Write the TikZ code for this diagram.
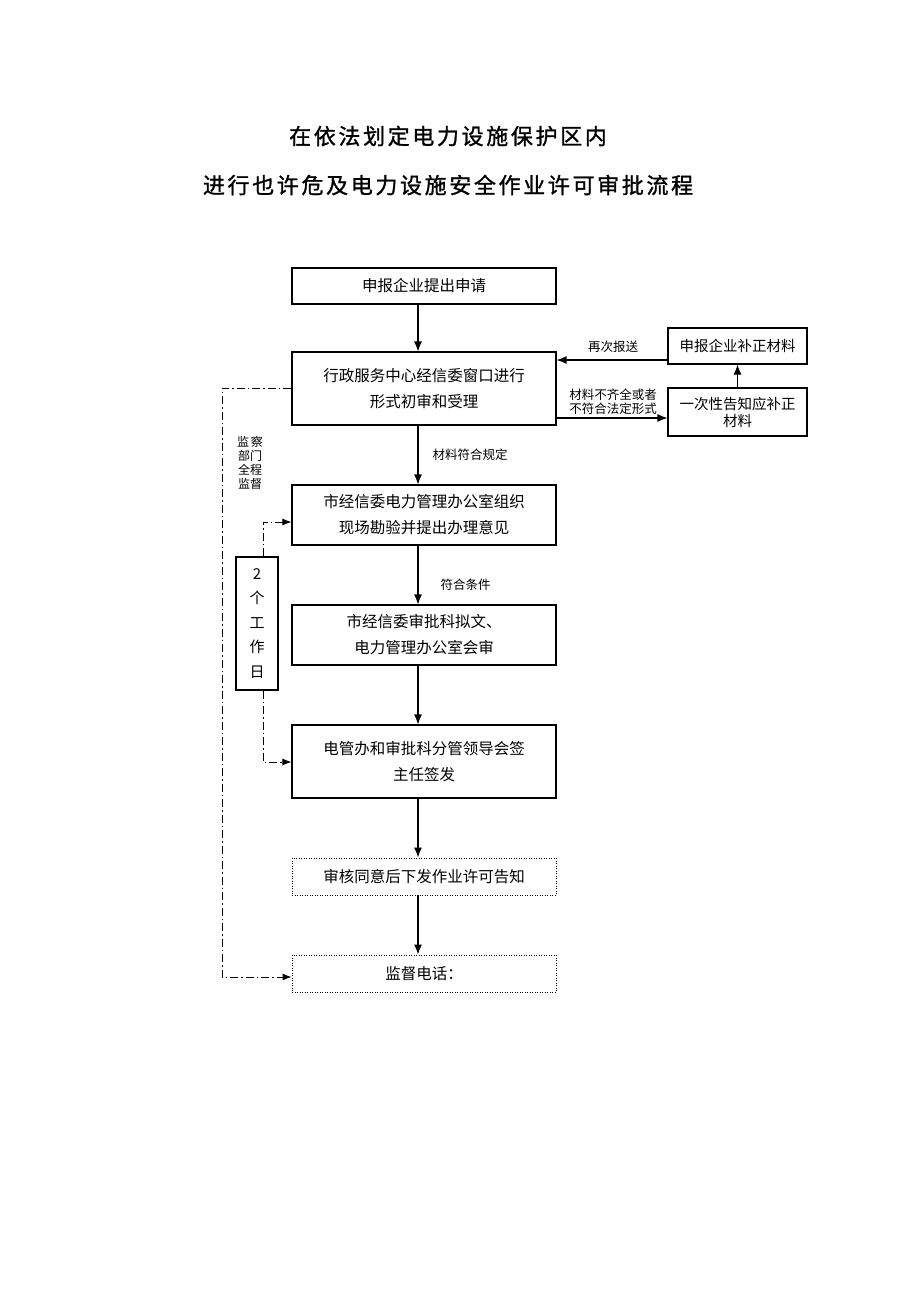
\documentclass[tikz,border=0pt]{standalone}
\usepackage{fontspec}
\setmainfont{Noto Sans CJK SC}
\newfontfamily\titlefont[LetterSpace=12,FakeBold=1.2]{Noto Sans CJK SC}
\usetikzlibrary{arrows.meta}
\begin{document}
\begin{tikzpicture}[x=1pt,y=-1pt,
  box/.style={draw,line width=1.1pt,inner sep=0pt,align=center,font=\fontsize{15.5}{26}\selectfont},
  mainbox/.style={box,minimum width=264pt},
  sidebox/.style={box,minimum width=139pt,font=\fontsize{14.5}{17}\selectfont},
  dotbox/.style={mainbox,line width=0.9pt,dash pattern=on 1pt off 1.5pt},
  lbl/.style={inner sep=0pt,font=\fontsize{12.5}{14}\selectfont},
  arr/.style={line width=1.2pt,-{Latex[length=10pt,width=8pt]}},
  dd/.style={line width=0.9pt,dash pattern=on 8pt off 3pt on 1.5pt off 3pt},
  ddarr/.style={dd,-{Latex[length=9pt,width=7pt]}}
]
\useasboundingbox (0,0) rectangle (920,1302);
\fill[white] (0,0) rectangle (920,1302);

% titles
\node[inner sep=0pt,font=\titlefont\fontsize{22}{24}\selectfont] (t1) at (448,136) {在依法划定电力设施保护区内};
\node[inner sep=0pt,font=\titlefont\fontsize{22}{24}\selectfont] (t2) at (448,185) {进行也许危及电力设施安全作业许可审批流程};

% main boxes
\node[mainbox,minimum height=36pt] (B1) at (424,286) {申报企业提出申请};
\node[mainbox,minimum height=73pt] (B2) at (424,388.5) {行政服务中心经信委窗口进行\\形式初审和受理};
\node[mainbox,minimum height=60pt] (B3) at (424,515) {市经信委电力管理办公室组织\\现场勘验并提出办理意见};
\node[mainbox,minimum height=60pt] (B4) at (424,635) {市经信委审批科拟文、\\电力管理办公室会审};
\node[mainbox,minimum height=73pt] (B5) at (424,761.5) {电管办和审批科分管领导会签\\主任签发};
\node[dotbox,minimum height=37pt] (B6) at (424,876.5) {审核同意后下发作业许可告知};
\node[dotbox,minimum height=37pt] (B7) at (424,973.5) {监督电话：};

% side boxes
\node[sidebox,minimum height=36pt] (R1) at (737.5,346) {申报企业补正材料};
\node[sidebox,minimum height=48pt] (R2) at (737.5,412) {一次性告知应补正\\材料};

% working days box
\node[box,minimum width=42pt,minimum height=133pt,font=\fontsize{15}{24.5}\selectfont] (W) at (257,623.5) {2\\个\\工\\作\\日};

% supervision label
\node[lbl,align=center,font=\fontsize{12}{14}\selectfont] (S) at (250,463) {监\,察\\部门\\全程\\监督};

% coordinates
\coordinate (xc) at (418,0);
\coordinate (ya) at (0,418);
\coordinate (yb) at (0,360);
\coordinate (L1) at (222,388);
\coordinate (L2) at (222,977);
\coordinate (y7) at (0,977);
\coordinate (w1) at (263,522);
\coordinate (w2) at (263,762);

% main flow arrows
\draw[arr] (B1.south -| xc) -- (B2.north -| xc);
\draw[arr] (B2.south -| xc) -- node[lbl,anchor=west,xshift=14pt] (l1) {材料符合规定} (B3.north -| xc);
\draw[arr] (B3.south -| xc) -- node[lbl,anchor=west,xshift=22pt,yshift=-10pt] (l2) {符合条件} (B4.north -| xc);
\draw[arr] (B4.south -| xc) -- (B5.north -| xc);
\draw[arr] (B5.south -| xc) -- (B6.north -| xc);
\draw[arr] (B6.south -| xc) -- (B7.north -| xc);

% side loop
\draw[arr] (B2.east |- ya) -- (R2.west |- ya);
\node[lbl,align=center,font=\fontsize{12.5}{14}\selectfont] (l3) at (613,402) {材料不齐全或者\\不符合法定形式};
\draw[arr] (R2.north) -- (R1.south);
\draw[arr] (R1.west |- yb) -- (B2.east |- yb);
\node[lbl] (l4) at (613,347) {再次报送};

% supervision dash-dot line
\draw[ddarr] (B2.west |- L1) -- (L1) -- (L2) -- (B7.west |- y7);

% working days dash-dot lines
\draw[ddarr] (W.north -| w1) -- (w1) -- (B3.west |- w1);
\draw[ddarr] (W.south -| w2) -- (w2) -- (B5.west |- w2);
\end{tikzpicture}
\end{document}
